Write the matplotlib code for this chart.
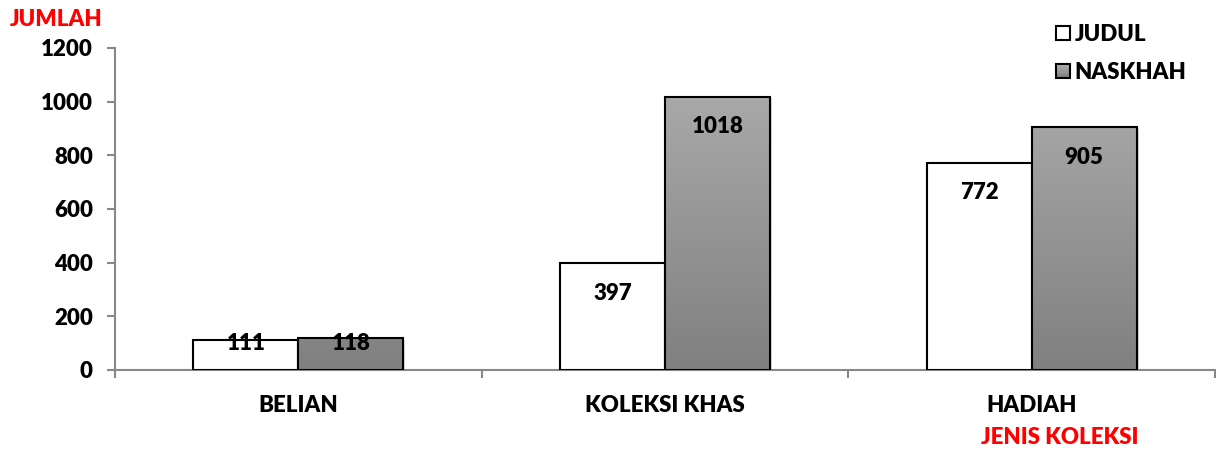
import matplotlib
matplotlib.use("Agg")
import matplotlib.pyplot as plt
import numpy as np
from matplotlib.patches import Rectangle
from matplotlib.colors import LinearSegmentedColormap
from matplotlib.legend_handler import HandlerBase

categories = ["BELIAN", "KOLEKSI KHAS", "HADIAH"]
judul = [111, 397, 772]
naskhah = [118, 1018, 905]
yticks = [0, 200, 400, 600, 800, 1000, 1200]

plt.rcParams['font.family'] = ['Lato', 'DejaVu Sans']
WT = "heavy"
plt.rcParams['font.weight'] = WT
FS = 16

fig = plt.figure(figsize=(12.16, 4.51), dpi=100)
ax = fig.add_axes([115/1216, 81/451, 1100/1216, 322/451])

x = np.arange(len(categories))
w = 0.286
grad = LinearSegmentedColormap.from_list("g", ["#808080", "#b0b0b0"])

b1 = ax.bar(x - w/2, judul, w, color="white", edgecolor="black", linewidth=1.5, zorder=3)
b2 = ax.bar(x + w/2, naskhah, w, color="none", edgecolor="black", linewidth=1.5, zorder=4)

ax.set_xlim(-0.5, 2.5)
ax.set_ylim(0, 1200)

gimg = np.linspace(0, 1, 256).reshape(-1, 1)
for bar in b2:
    bx, by = bar.get_x(), bar.get_y()
    bw, bh = bar.get_width(), bar.get_height()
    ax.add_patch(Rectangle((bx + 0.006, by), bw, bh - 6, color="#d8d8d8", zorder=2, linewidth=0))
    im = ax.imshow(gimg, cmap=grad, aspect="auto", origin="lower",
                   extent=[bx, bx + bw, 0, 1200], zorder=3.5)
    clip = Rectangle((bx, by), bw, bh, transform=ax.transData)
    im.set_clip_path(clip)

for bars, vals in ((b1, judul), (b2, naskhah)):
    for bar, v in zip(bars, vals):
        yl = max(v - 112, 100)
        ax.text(bar.get_x() + bar.get_width()/2, yl, str(v), ha="center", va="center",
                fontsize=FS, fontweight=WT, color="black", zorder=6)

spine_c = "#888888"
for s in ("top", "right"):
    ax.spines[s].set_visible(False)
ax.spines["left"].set_color(spine_c)
ax.spines["bottom"].set_color(spine_c)
ax.spines["left"].set_linewidth(1.5)
ax.spines["bottom"].set_linewidth(1.5)

ax.set_yticks(yticks)
ax.set_yticklabels([str(t) for t in yticks], fontsize=FS, fontweight=WT)
ax.tick_params(axis="y", length=6, width=1.5, color=spine_c, pad=10)
ax.set_xticks(x)
ax.set_xticklabels(categories, fontsize=FS, fontweight=WT)
ax.tick_params(axis="x", which="major", length=0, pad=18)
ax.set_xticks([-0.5, 0.5, 1.5, 2.5], minor=True)
ax.tick_params(axis="x", which="minor", length=6, width=1.5, color=spine_c)

fig.text(10/1216, 1 - 19/451, "JUMLAH", color="red", fontsize=FS, fontweight=WT, ha="left", va="center")
fig.text(1060/1216, 1 - 438/451, "JENIS KOLEKSI", color="red", fontsize=FS, fontweight=WT, ha="center", va="center")

class GradHandler(HandlerBase):
    def __init__(self, gradient):
        super().__init__()
        self.gradient = gradient
    def create_artists(self, legend, orig_handle, xdescent, ydescent, width, height, fontsize, trans):
        s = 14 * 72 / 100
        x0 = width - s
        y0 = (height - s) / 2 - ydescent
        arts = []
        if self.gradient:
            n = 8
            for i in range(n):
                c = grad(1 - i / (n - 1))
                arts.append(Rectangle((x0, y0 + s - (i + 1) * s / n), s, s / n, facecolor=c,
                                      edgecolor="none", transform=trans))
            arts.append(Rectangle((x0, y0), s, s, facecolor="none", edgecolor="black", lw=1.5, transform=trans))
        else:
            arts.append(Rectangle((x0, y0), s, s, facecolor="white", edgecolor="black", lw=1.5, transform=trans))
        return arts

h1 = Rectangle((0, 0), 1, 1)
h2 = Rectangle((0, 0), 1, 1, label="x")
leg = fig.legend([h1, h2], ["JUDUL", "NASKHAH"], loc="upper left",
                 bbox_to_anchor=(1028/1216, 1 - 4/451), frameon=False,
                 prop={"size": FS, "weight": WT}, handlelength=1.0,
                 handletextpad=0.2, labelspacing=0.75,
                 handler_map={h1: GradHandler(False), h2: GradHandler(True)})

fig.savefig("out.png", dpi=100)
